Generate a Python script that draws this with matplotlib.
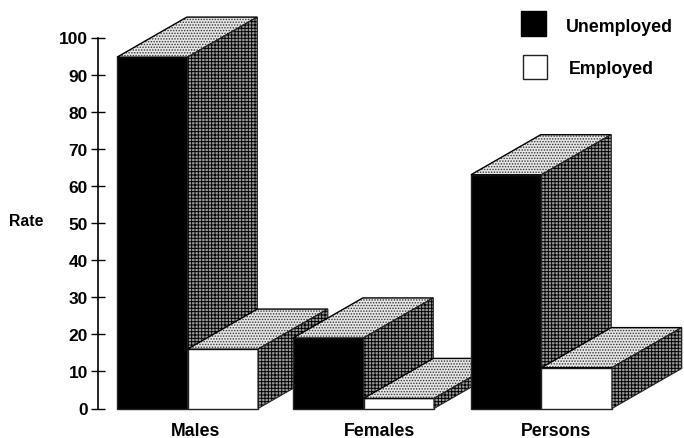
import matplotlib
matplotlib.use('Agg')
import matplotlib.pyplot as plt
from matplotlib.patches import Polygon, Rectangle

categories = ['Males', 'Females', 'Persons']
unemployed = [94.7, 19, 63]
employed = [16, 2.7, 11]
yticks = [0, 10, 20, 30, 40, 50, 60, 70, 80, 90, 100]

# bar width is one x unit, 70.5 px on screen
group_left = [0.27, 2.766, 5.29]
label_x = [1.39, 3.986, 6.5]
depth_x = 0.99
depth_y = 10.8

W, H = 684, 439
plt.rcParams['font.family'] = ['Liberation Sans', 'DejaVu Sans']
plt.rcParams['font.weight'] = 'bold'
plt.rcParams['hatch.linewidth'] = 0.7

fig = plt.figure(figsize=(W / 100, H / 100), dpi=100)
ax = fig.add_axes([98 / W, 1 - 409.5 / H, (W - 98) / W, 371 / H])
ax.set_xlim(0, (W - 98) / 70.5)
ax.set_ylim(0, 100)


def bar3d(x, h, color):
    ax.bar(x, h, width=1, align='edge', color=color, edgecolor='#222222',
           linewidth=1, zorder=3, clip_on=False)
    top = [(x, h), (x + depth_x, h + depth_y), (x + 1 + depth_x, h + depth_y), (x + 1, h)]
    side = [(x + 1, 0), (x + 1 + depth_x, depth_y), (x + 1 + depth_x, h + depth_y), (x + 1, h)]
    ax.add_patch(Polygon(top, facecolor='#e6e6e6', edgecolor='#333333', hatch='......',
                         linewidth=0, zorder=3, clip_on=False))
    ax.add_patch(Polygon(top, fill=False, edgecolor='black', linewidth=1, zorder=3, clip_on=False))
    ax.add_patch(Polygon(side, facecolor='#9c9c9c', edgecolor='black', hatch='+++++',
                         linewidth=0, zorder=3, clip_on=False))
    ax.add_patch(Polygon(side, fill=False, edgecolor='#222222', linewidth=0.8, zorder=3, clip_on=False))


for i in range(len(categories)):
    bar3d(group_left[i], unemployed[i], 'black')
    bar3d(group_left[i] + 1, employed[i], 'white')

for name in ['top', 'right', 'bottom']:
    ax.spines[name].set_visible(False)
ax.spines['left'].set_linewidth(1.2)
ax.set_yticks(yticks)
ax.tick_params(axis='y', direction='inout', length=9.5, width=1, labelsize=12.5, pad=2.5)
ax.set_xticks(label_x)
ax.set_xticklabels(categories, fontsize=12.8)
ax.tick_params(axis='x', length=0, pad=9.5)
ax.patch.set_alpha(0)

fig.text(9 / W, 1 - 221 / H, 'Rate', fontsize=11.3, va='center', ha='left')

# legend
fig.add_artist(Rectangle((521 / W, 1 - 37 / H), 24.5 / W, 25 / H, facecolor='black',
                         edgecolor='black', transform=fig.transFigure))
fig.add_artist(Rectangle((522.5 / W, 1 - 80 / H), 24.5 / W, 24 / H, facecolor='white',
                         edgecolor='#222222', linewidth=1, transform=fig.transFigure))
fig.text(566 / W, 1 - 28 / H, 'Unemployed', fontsize=12.8, va='center', ha='left')
fig.text(569 / W, 1 - 70 / H, 'Employed', fontsize=12.8, va='center', ha='left')

fig.savefig('out.png', dpi=100)
